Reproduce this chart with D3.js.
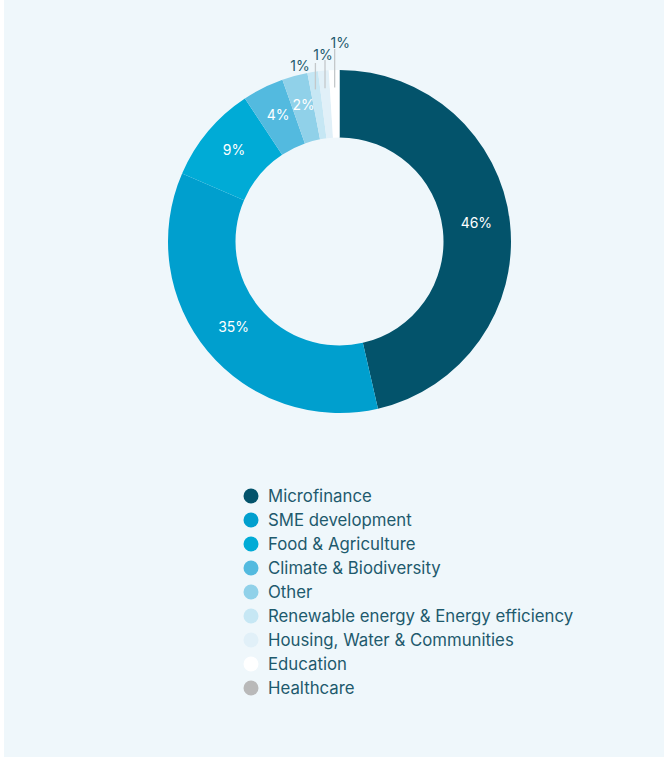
<!DOCTYPE html>
<html><head><meta charset="utf-8">
<script src="https://cdn.jsdelivr.net/npm/d3@7"></script>
<style>html,body{margin:0;padding:0;background:#fff;}svg{display:block;}</style>
</head><body>
<svg id="c" width="668" height="762"></svg>
<script>
const categories = ["Microfinance","SME development","Food & Agriculture","Climate & Biodiversity","Other","Renewable energy & Energy efficiency","Housing, Water & Communities","Education","Healthcare"];
const values = [46.4, 35.1, 9.2, 3.9, 2.4, 1.0, 1.0, 1.0, 0];
const labels = ["46%","35%","9%","4%","2%","1%","1%","1%",""];
const colors = ["#03536b","#009fce","#00abd6","#53badf","#90d1e9","#c6e7f4","#e1f0f8","#ffffff","#b9b9b9"];

const svg = d3.select("#c");
svg.append("rect").attr("x",4).attr("y",0).attr("width",660).attr("height",757).attr("fill","#eff7fb");

const cx = 339.5, cy = 241.5, rOuter = 171.5, rInner = 104;
const data = categories.map((c,i)=>({name:c, value:values[i], label:labels[i], color:colors[i]}));
const pie = d3.pie().value(d=>d.value).sort(null);
const arc = d3.arc().innerRadius(rInner).outerRadius(rOuter);
const arcs = pie(data);
const g = svg.append("g").attr("transform",`translate(${cx},${cy})`);
g.selectAll("path").data(arcs).join("path").attr("d",arc).attr("fill",d=>d.data.color);

const font = "Inter, 'Noto Sans', sans-serif";
g.selectAll("text.in").data(arcs.filter(d=>d.data.value>=2)).join("text")
  .attr("class","in")
  .attr("transform",d=>{const c=arc.centroid(d);return `translate(${c[0]},${c[1]-3})`;})
  .attr("text-anchor","middle").attr("dy","0.35em")
  .attr("fill","#ffffff").attr("font-family",font).attr("font-size",14)
  .text(d=>d.data.label);

const small = arcs.filter(d=>d.data.value>0 && d.data.value<2);
const lineBottom = 154;
const lineTops = [63, 60, 49];
const labelOffsets = [-15.5, -2, 5.5];
const labelBase = [71, 60, 48];
small.forEach((d,i)=>{
  const a = (d.startAngle+d.endAngle)/2;
  const x = Math.sin(a)*lineBottom;
  const yb = -Math.cos(a)*lineBottom;
  g.append("line").attr("x1",x).attr("x2",x).attr("y1",yb).attr("y2",lineTops[i]-cy)
    .attr("stroke","#c4c8ca").attr("stroke-width",1.3);
  g.append("text").attr("x",x+labelOffsets[i]).attr("y",labelBase[i]-cy)
    .attr("text-anchor","middle").attr("fill","#1e5a6d").attr("font-family",font).attr("font-size",14)
    .text(d.data.label);
});

const lg = svg.append("g");
const rows = lg.selectAll("g").data(data).join("g")
  .attr("transform",(d,i)=>`translate(251,${496+i*24})`);
rows.append("circle").attr("r",7.5).attr("fill",d=>d.color);
rows.append("text").attr("x",17).attr("dy","0.35em").attr("fill","#1e5a6d")
  .attr("font-family",font).attr("font-size",16.8).text(d=>d.name);
</script>
</body></html>
